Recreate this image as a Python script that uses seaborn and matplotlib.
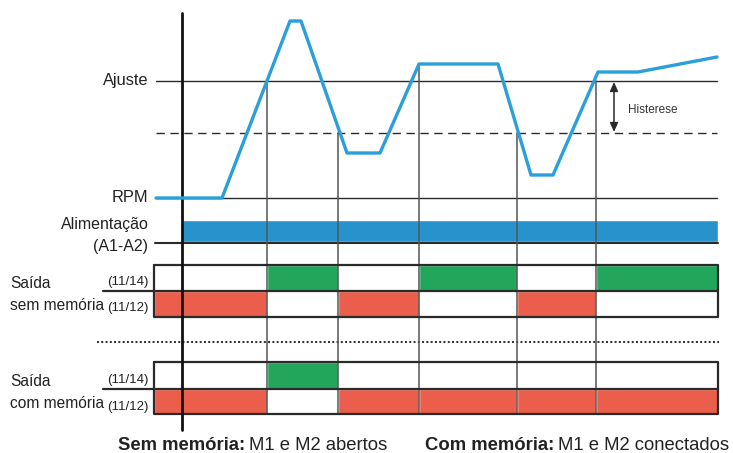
import matplotlib
matplotlib.use("Agg")
import matplotlib.pyplot as plt
import pandas as pd
import seaborn as sns

sns.set_theme(style="white")
plt.rcParams['font.family'] = ['Liberation Sans', 'DejaVu Sans']

# Motor speed curve (time along x, level drawn top-down like the diagram)
curve_t = [156, 222, 290, 301, 347, 380, 419, 498, 531, 553, 598, 638, 717]
curve_y = [198, 198, 21, 21, 153, 153, 64, 64, 175, 175, 72, 72, 57]

level_ajuste = 81
level_hyst = 133
level_rpm = 198

# Relay switching instants and where each guide line starts
switch_t = [267, 338, 419, 517, 596]
switch_top = [81, 133, 64, 133, 81]

# Output contact states per time segment (1 = closed)
seg_edges = [154, 267, 338, 419, 517, 596, 718]
sem_no = [0, 1, 0, 1, 0, 1]   # (11/14) without memory
sem_nc = [1, 0, 1, 0, 1, 0]   # (11/12) without memory
com_no = [0, 1, 0, 0, 0, 0]   # (11/14) with memory
com_nc = [1, 0, 1, 1, 1, 1]   # (11/12) with memory

BLUE_LINE = "#2b9fd9"
BLUE_BAND = "#2892cc"
GREEN = "#22a65b"
RED = "#eb5e4b"
DARK = "#2a2a2a"
GRID = "#555555"

fig = plt.figure(figsize=(7.33, 4.53), dpi=100)
ax = fig.add_axes([0, 0, 1, 1])
ax.set_xlim(0, 733)
ax.set_ylim(453, 0)
ax.axis("off")

# Threshold lines
ax.plot([156, 717], [level_ajuste] * 2, color=DARK, lw=1.0, zorder=2)
ax.plot([156, 717], [level_hyst] * 2, color=DARK, lw=1.0, ls=(0, (6, 4)), zorder=2)
ax.plot([156, 717], [level_rpm] * 2, color=DARK, lw=1.0, zorder=2)

# Power supply band
ax.barh(y=231, width=718 - 182, height=22, left=182, color=BLUE_BAND, zorder=3)
ax.plot([155, 718], [243, 243], color=DARK, lw=1.5, zorder=4)


def draw_rows(top, mid, bottom, no_states, nc_states):
    for i, (a, b) in enumerate(zip(seg_edges[:-1], seg_edges[1:])):
        if no_states[i]:
            ax.barh(y=(top + mid) / 2, width=b - a, height=mid - top, left=a,
                    color=GREEN, zorder=3)
        if nc_states[i]:
            ax.barh(y=(mid + bottom) / 2, width=b - a, height=bottom - mid, left=a,
                    color=RED, zorder=3)
    x0, x1 = seg_edges[0], seg_edges[-1]
    ax.plot([x0, x1, x1, x0, x0], [top, top, bottom, bottom, top],
            color=DARK, lw=1.6, zorder=5)
    ax.plot([103, x1], [mid, mid], color=DARK, lw=1.6, zorder=5)


draw_rows(265, 291, 317, sem_no, sem_nc)
draw_rows(362, 389, 414, com_no, com_nc)

# Separator between the two output modes
ax.plot([97, 719], [342, 342], color=DARK, lw=1.4, ls=(0, (1, 1.2)), zorder=2)

# Switching guide lines
for t, top in zip(switch_t, switch_top):
    ax.plot([t, t], [top, 414], color=GRID, lw=1.1, zorder=4)

# Time axis
ax.plot([182, 182], [13, 430], color="#111111", lw=2.0, zorder=6)

# Speed curve
curve = pd.DataFrame({"t": curve_t, "y": curve_y})
sns.lineplot(data=curve, x="t", y="y", sort=False, estimator=None,
             color=BLUE_LINE, lw=2.4, ax=ax, zorder=7)
ax.set_xlim(0, 733)
ax.set_ylim(453, 0)
ax.axis("off")

# Hysteresis arrow
ax.annotate("", xy=(614, level_hyst - 1), xytext=(614, level_ajuste + 1),
            arrowprops=dict(arrowstyle="<|-|>,head_length=0.45,head_width=0.2",
                            color=DARK, lw=1.1, shrinkA=0, shrinkB=0), zorder=6)
ax.text(628, 110, "Histerese", fontsize=8.5, color="#333333", va="center", ha="left")

TXT = "#222222"


def label(x, y, s, size=11.8, ha="right"):
    ax.text(x, y, s, fontsize=size, ha=ha, va="center", color=TXT)


label(148, level_ajuste, "Ajuste")
label(148, level_rpm, "RPM")
label(149, 225, "Alimentação", size=11.5)
label(148, 247, "(A1-A2)", size=11.5)

label(10, 283, "Saída", size=11.2, ha="left")
label(10, 305, "sem memória", size=11.2, ha="left")
label(148, 282, "(11/14)", size=9.5)
label(148, 308, "(11/12)", size=9.5)

label(10, 381, "Saída", size=11.2, ha="left")
label(10, 403, "com memória", size=11.2, ha="left")
label(148, 380, "(11/14)", size=9.5)
label(148, 407, "(11/12)", size=9.5)

# Footer captions: bold key followed by regular description
fig.canvas.draw()
renderer = fig.canvas.get_renderer()


def caption(x, bold, rest):
    t1 = ax.text(x, 445, bold, fontsize=13.3, fontweight="bold", ha="left",
                 va="center", color=TXT)
    bb = t1.get_window_extent(renderer=renderer)
    x_end = ax.transData.inverted().transform((bb.x1, bb.y0))[0]
    ax.text(x_end + 4, 445, rest, fontsize=13.3, ha="left", va="center", color=TXT)


caption(118, "Sem memória:", "M1 e M2 abertos")
caption(425, "Com memória:", "M1 e M2 conectados")

fig.savefig("out.png", dpi=100, facecolor="white")
